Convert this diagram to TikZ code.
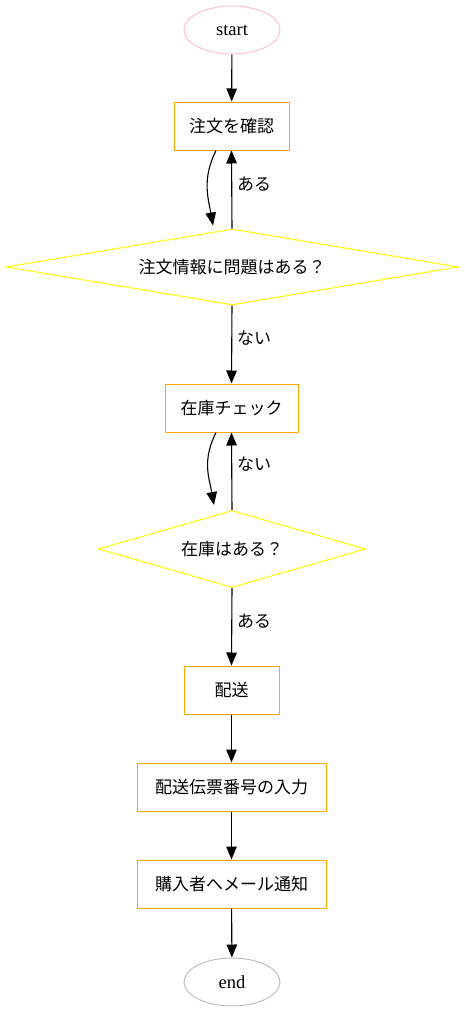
\documentclass[tikz,border=0pt]{standalone}
\usepackage{fontspec}
\setmainfont{Liberation Serif}
\newfontfamily\cjk{Noto Sans CJK JP}
\usetikzlibrary{shapes.geometric,arrows.meta}
\definecolor{gvorange}{HTML}{FFA500}
\definecolor{gvpink}{HTML}{FFC0CB}
\definecolor{gvgray}{HTML}{BEBEBE}
\definecolor{gvyellow}{HTML}{FFFF00}
\begin{document}
\begin{tikzpicture}[x=1pt,y=-1pt,
  every node/.style={font=\fontsize{18.5}{20}\selectfont},
  term/.style={ellipse,draw,line width=1pt,minimum width=96pt,minimum height=48pt,inner sep=0pt},
  proc/.style={rectangle,draw=gvorange,line width=1pt,minimum height=48pt,inner sep=0pt,font=\cjk\fontsize{17}{20}\selectfont},
  dec/.style={diamond,draw=gvyellow,line width=1pt,inner sep=0pt,font=\cjk\fontsize{17}{20}\selectfont},
  lbl/.style={anchor=west,inner sep=0pt,font=\cjk\fontsize{17}{20}\selectfont},
  arr/.style={-{Triangle[length=13pt,width=10.5pt]},line width=1.1pt}]
\useasboundingbox (0,0) rectangle (464,1012);
\node[term,draw=gvpink] (start) at (232,30) {start};
\node[proc,minimum width=115pt] (c1) at (231.5,126) {注文を確認};
\node[dec,minimum width=452pt,minimum height=76pt,aspect=5.9] (d1) at (232,267) {注文情報に問題はある？};
\node[proc,minimum width=133pt] (c2) at (231.5,408) {在庫チェック};
\node[dec,minimum width=267pt,minimum height=77pt,aspect=3.45] (d2) at (232,549) {在庫はある？};
\node[proc,minimum width=95pt] (p1) at (231.5,690) {配送};
\node[proc,minimum width=189pt] (p2) at (231.5,787) {配送伝票番号の入力};
\node[proc,minimum width=189pt] (p3) at (231.5,884) {購入者へメール通知};
\node[term,draw=gvgray] (end) at (232,982) {end};
\node[lbl] (l1) at (237,184) {ある};
\node[lbl] (l2) at (237,338) {ない};
\node[lbl] (l3) at (237,464) {ない};
\node[lbl] (l4) at (237,621) {ある};
\draw[arr] (start) -- (c1);
\draw[arr] ([xshift=-15.5pt]c1.south) .. controls +(-14,28) and +(-5,-28) .. ([xshift=-19pt,yshift=3pt]d1.north);
\draw[arr] (d1.north) -- (c1.south);
\draw[arr] (d1.south) -- (c2.north);
\draw[arr] ([xshift=-15.5pt]c2.south) .. controls +(-14,28) and +(-5,-28) .. ([xshift=-18pt,yshift=5pt]d2.north);
\draw[arr] (d2.north) -- (c2.south);
\draw[arr] (d2.south) -- (p1.north);
\draw[arr] (p1) -- (p2);
\draw[arr] (p2) -- (p3);
\draw[arr] (p3) -- (end);
\end{tikzpicture}
\end{document}
